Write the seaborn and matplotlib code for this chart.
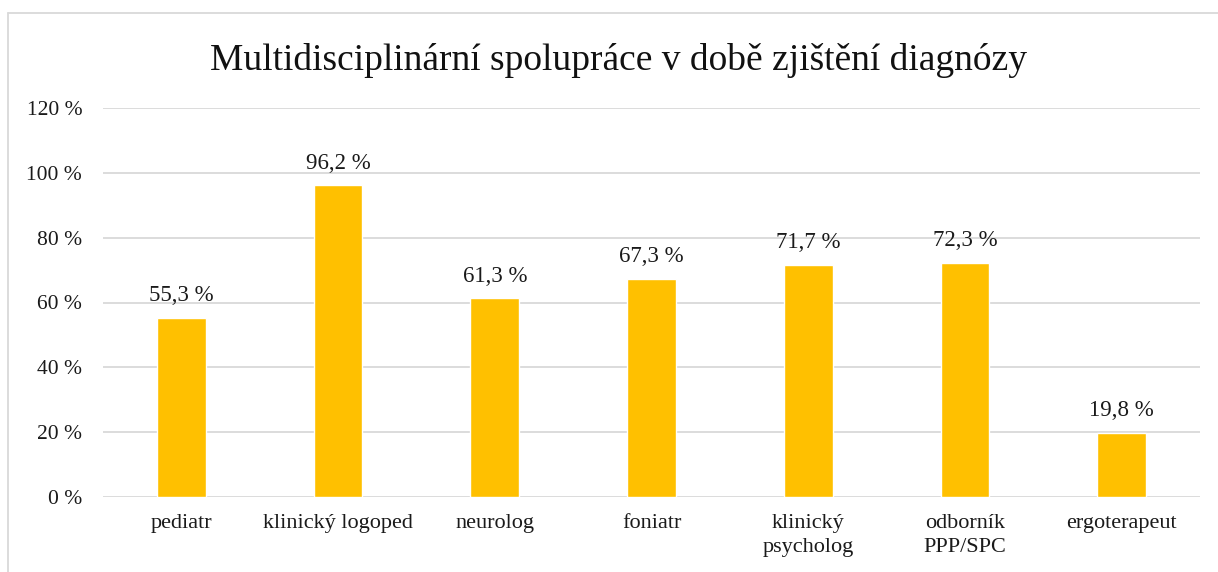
import matplotlib
matplotlib.use("Agg")
import matplotlib.pyplot as plt
import seaborn as sns
import pandas as pd
from matplotlib.lines import Line2D

categories = ["pediatr", "klinický logoped", "neurolog", "foniatr",
              "klinický\npsycholog", "odborník\nPPP/SPC", "ergoterapeut"]
values = [55.3, 96.2, 61.3, 67.3, 71.7, 72.3, 19.8]
y_ticks = [0, 20, 40, 60, 80, 100, 120]
title = "Multidisciplinární spolupráce v době zjištění diagnózy"

sns.set_theme(style="white")
plt.rcParams["font.family"] = ["Liberation Serif", "DejaVu Serif"]

W, H = 1218, 572
fig = plt.figure(figsize=(W / 100, H / 100), dpi=100)
ax = fig.add_axes([103 / W, 1 - 497 / H, (1200 - 103) / W, (497 - 108) / H])

df = pd.DataFrame({"cat": categories, "val": values})
sns.barplot(data=df, x="cat", y="val", color="#FFC000", saturation=1,
            width=0.31, ax=ax, zorder=3)

ax.set_ylim(0, 120)
ax.set_yticks(y_ticks)
ax.set_yticklabels([f"{t} %" for t in y_ticks], fontsize=15.5, color="#1a1a1a")
ax.tick_params(axis="y", length=0, pad=15)
ax.tick_params(axis="x", length=0, pad=12, labelsize=16, labelcolor="#1a1a1a")
for lbl in ax.get_xticklabels():
    lbl.set_linespacing(1.35)
ax.set_xlabel("")
ax.set_ylabel("")
ax.set_xlim(-0.5, len(categories) - 0.5)
ax.yaxis.grid(True, color="#D9D9D9", linewidth=1.3, zorder=0)
ax.set_axisbelow(True)
for s in ax.spines.values():
    s.set_visible(False)

for i, v in enumerate(values):
    ax.text(i, v + 3.5, f"{v:.1f} %".replace(".", ","), ha="center", va="bottom",
            fontsize=16.5, color="#1a1a1a")

fig.text(619 / W, 1 - 60 / H, title, ha="center", va="center", fontsize=27, color="#111111")

# chart border (left and top visible)
fig.add_artist(Line2D([8 / W, 8 / W], [1 - 13 / H, 0], transform=fig.transFigure,
                      color="#D9D9D9", linewidth=1.3))
fig.add_artist(Line2D([8 / W, 1], [1 - 13 / H, 1 - 13 / H], transform=fig.transFigure,
                      color="#D9D9D9", linewidth=1.3))

fig.savefig("out.png", dpi=100, facecolor="white")
